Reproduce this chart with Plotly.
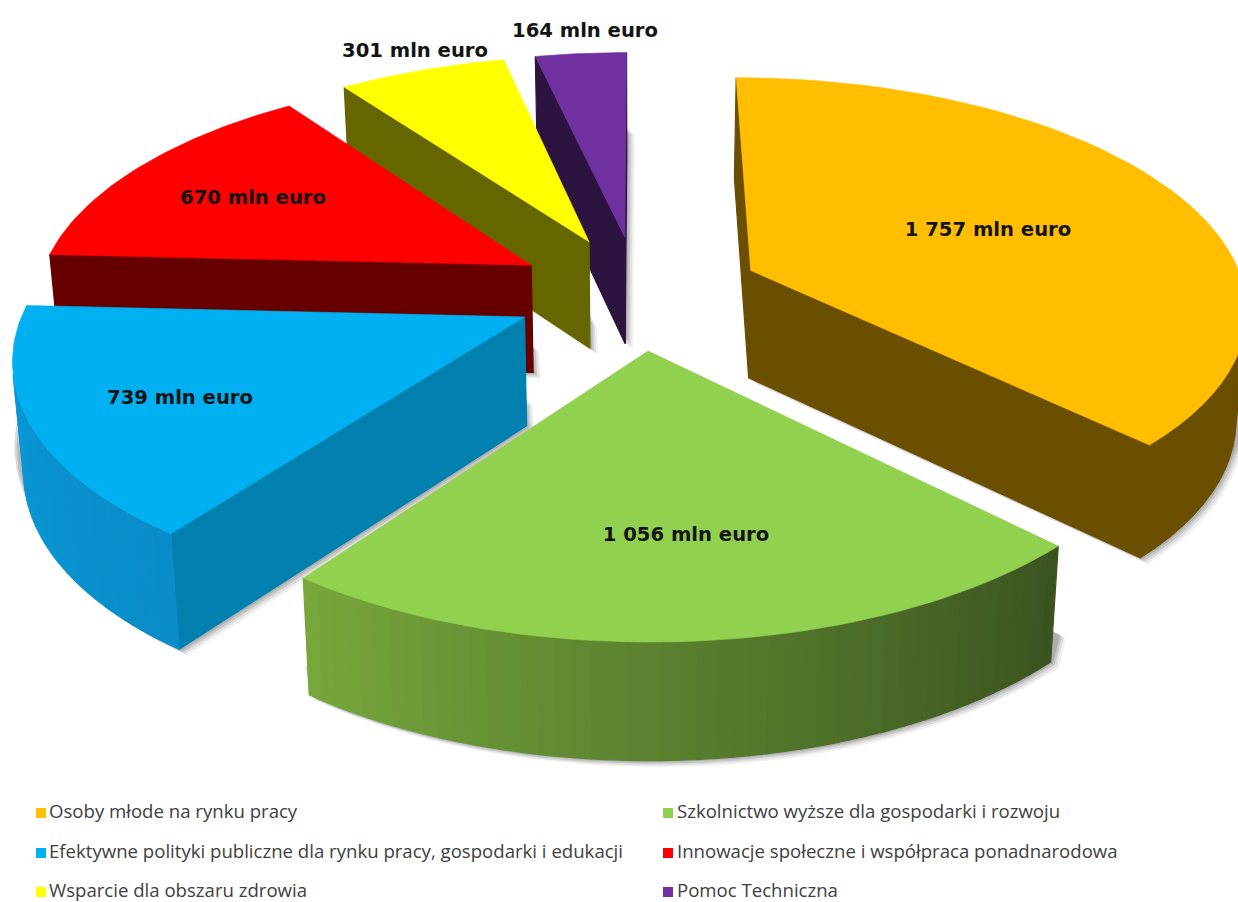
import math
import plotly.graph_objects as go

categories = ["Osoby młode na rynku pracy", "Szkolnictwo wyższe dla gospodarki i rozwoju",
              "Efektywne polityki publiczne dla rynku pracy, gospodarki i edukacji",
              "Innowacje społeczne i współpraca ponadnarodowa",
              "Wsparcie dla obszaru zdrowia", "Pomoc Techniczna"]
values = [1757, 1056, 739, 670, 301, 164]
value_labels = ["1 757 mln euro", "1 056 mln euro", "739 mln euro", "670 mln euro", "301 mln euro", "164 mln euro"]
top_colors = ["#FFBF00", "#92D050", "#00B0F0", "#FF0000", "#FFFF00", "#7030A0"]
wall_colors = ["#6B4F00", "#3A5420", "#0080AE", "#660000", "#666600", "#2D1340"]
rim_from = ["#6B4F00", "#3A5420", "#0A8CC8", "#660000", "#666600", "#2D1340"]
rim_to = ["#6B4F00", "#78A83C", "#0A9CDA", "#660000", "#666600", "#2D1340"]
label_x = [988, 686, 180, 253, 415, 585]
label_y = [231, 536, 399, 199, 52, 32]
legend_x = [41, 668, 41, 668, 41, 668]
legend_y = [813, 813, 853, 853, 892, 892]
legend_text_x = [49, 677, 49, 677, 49, 677]

CX, CY, R, K, P, E, DEPTH, Q = 638, 292, 495, 0.46, 0.15, 0.25, 108, 0.018


def project(X, Y, z):
    w = 1 + P * Y
    sx = R * X / w
    sy = -R * K * Y / w + DEPTH * z / w ** 0.45
    return CX + sx * (1 - Q * z), CY + sy


def hexmix(a, b, t):
    pa = [int(a[i:i + 2], 16) for i in (1, 3, 5)]
    pb = [int(b[i:i + 2], 16) for i in (1, 3, 5)]
    return "rgb(%d,%d,%d)" % tuple(round(u + (v - u) * t) for u, v in zip(pa, pb))


def hull(pts):
    pts = sorted(set(pts))
    def half(seq):
        out = []
        for p in seq:
            while len(out) > 1 and ((out[-1][0] - out[-2][0]) * (p[1] - out[-2][1])
                                    - (out[-1][1] - out[-2][1]) * (p[0] - out[-2][0])) <= 0:
                out.pop()
            out.append(p)
        return out[:-1]
    return half(pts) + half(pts[::-1])


def poly(fig, pts, color, lw=1.2):
    xs = [p[0] for p in pts] + [pts[0][0]]
    ys = [p[1] for p in pts] + [pts[0][1]]
    fig.add_trace(go.Scatter(x=xs, y=ys, mode="lines", fill="toself", fillcolor=color,
                             line=dict(color=color, width=lw), hoverinfo="skip", showlegend=False))


fig = go.Figure()
total = sum(values)
spans = []
acc = 0
for v in values:
    spans.append((acc / total * 2 * math.pi, (acc + v) / total * 2 * math.pi))
    acc += v

order = [5, 4, 3, 2, 1, 0]
for i in order:
    a0, a1 = spans[i]
    mid = (a0 + a1) / 2
    ox, oy = E * math.sin(mid), E * math.cos(mid)
    n = 48
    ang = [a0 + (a1 - a0) * j / n for j in range(n + 1)]
    plane = [(ox, oy)] + [(ox + math.sin(t), oy + math.cos(t)) for t in ang]
    top = [project(x, y, 0) for x, y in plane]
    bot = [project(x, y, 1) for x, y in plane]

    sil = hull(bot + [(x, y + 0.75 * (by - y)) for (x, y), (bx, by) in zip(top, bot)])
    for off, alpha in ((8, 0.08), (6, 0.12), (4, 0.18), (2, 0.22)):
        poly(fig, [(x + off, y + off * 0.8) for x, y in sil], "rgba(90,90,90,%.2f)" % alpha, 0)

    m = len(top)
    for j in range(m):
        k = (j + 1) % m
        q = [top[j], top[k], bot[k], bot[j]]
        area = sum(q[s][0] * q[(s + 1) % 4][1] - q[(s + 1) % 4][0] * q[s][1] for s in range(4))
        if area >= 0:
            continue
        if j == 0 or k == 0:
            color = wall_colors[i]
        else:
            color = hexmix(rim_from[i], rim_to[i], (j - 1) / n)
        poly(fig, q, color)
    poly(fig, top, top_colors[i], 0.6)

for i, lab in enumerate(value_labels):
    fig.add_trace(go.Scatter(x=[label_x[i]], y=[label_y[i]], mode="text", text=[lab],
                             textposition="middle center", hoverinfo="skip", showlegend=False,
                             textfont=dict(family="DejaVu Sans", size=19.6, color="#141414", weight="bold")))

for i, cat in enumerate(categories):
    fig.add_trace(go.Scatter(x=[legend_x[i]], y=[legend_y[i]], mode="markers", hoverinfo="skip", showlegend=False,
                             marker=dict(symbol="square", size=10, color=top_colors[i])))
    fig.add_trace(go.Scatter(x=[legend_text_x[i]], y=[legend_y[i]], mode="text", text=[cat],
                             textposition="middle right", hoverinfo="skip", showlegend=False,
                             textfont=dict(family="Open Sans", size=18.6, color="#404040")))

fig.update_xaxes(range=[0, 1238], visible=False, fixedrange=True)
fig.update_yaxes(range=[902, 0], visible=False, fixedrange=True)
fig.update_layout(width=1238, height=902, margin=dict(l=0, r=0, t=0, b=0),
                  plot_bgcolor="white", paper_bgcolor="white", showlegend=False)
fig.write_html("out.html", config={"displayModeBar": False},
               post_script="document.body.style.margin='0';document.documentElement.style.overflow='hidden';")
